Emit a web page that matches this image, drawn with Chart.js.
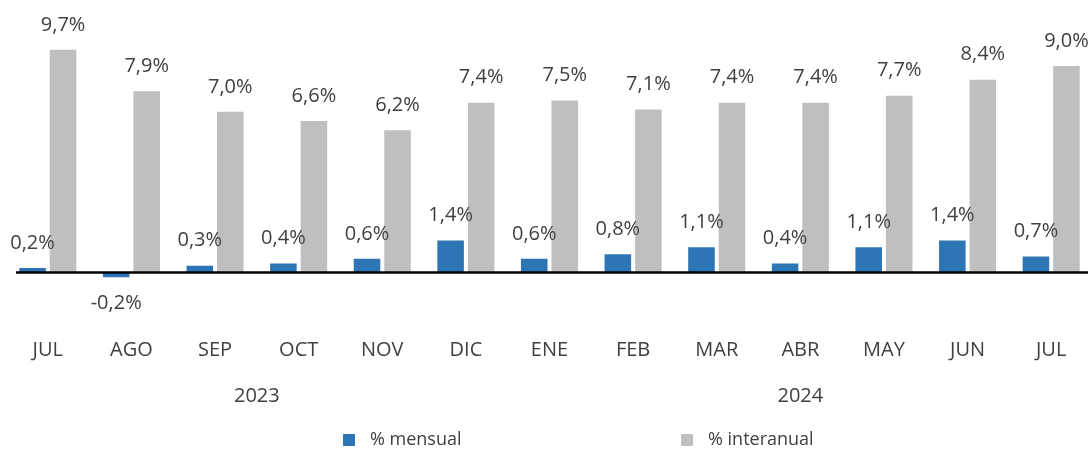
<!DOCTYPE html>
<html>
<head>
<meta charset="utf-8">
<script src="https://cdn.jsdelivr.net/npm/chart.js@4/dist/chart.umd.min.js"></script>
<style>
html,body{margin:0;padding:0;background:#fff;overflow:hidden;}
#wrap{width:1094px;height:450px;}
</style>
</head>
<body>
<div id="wrap"><canvas id="c" width="1094" height="450"></canvas></div>
<script>
const categories = ['JUL','AGO','SEP','OCT','NOV','DIC','ENE','FEB','MAR','ABR','MAY','JUN','JUL'];
const mensual = [0.2,-0.2,0.3,0.4,0.6,1.4,0.6,0.8,1.1,0.4,1.1,1.4,0.7];
const interanual = [9.7,7.9,7.0,6.6,6.2,7.4,7.5,7.1,7.4,7.4,7.7,8.4,9.0];
const seriesNames = ['% mensual','% interanual'];
const yearLabels = ['2023','2024'];
const yearStart = [0,6];
const yearEnd = [5,12];

const FONT = '"Open Sans", "Noto Sans", sans-serif';
const TXT = '#404040';
const BLUE = '#2E75B6';
const GREY = '#BFBFBF';

function fmt(v){ return v.toFixed(1).replace('.', ',') + '%'; }

const decor = {
  id: 'decor',
  afterDatasetsDraw(chart){
    const ctx = chart.ctx;
    const y = chart.scales.y;
    const x = chart.scales.x;
    const y0 = y.getPixelForValue(0);
    ctx.save();
    // baseline
    ctx.strokeStyle = '#000';
    ctx.lineWidth = 2.5;
    ctx.beginPath();
    ctx.moveTo(16, y0);
    ctx.lineTo(1088, y0);
    ctx.stroke();
    // value labels
    ctx.fillStyle = TXT;
    ctx.font = '20px ' + FONT;
    ctx.textAlign = 'center';
    ctx.textBaseline = 'middle';
    chart.data.datasets.forEach((ds, di) => {
      const meta = chart.getDatasetMeta(di);
      meta.data.forEach((el, i) => {
        const v = ds.data[i];
        const ly = v >= 0 ? el.y - 25 : el.y + 26;
        ctx.fillText(fmt(v), el.x, ly);
      });
    });
    // year labels
    yearLabels.forEach((lab, k) => {
      const xa = x.getPixelForValue(yearStart[k]);
      const xb = x.getPixelForValue(yearEnd[k]);
      ctx.fillText(lab, (xa + xb) / 2, 396);
    });
    // legend
    const legendX = [343, 681];
    ctx.font = '18px ' + FONT;
    ctx.textAlign = 'left';
    chart.data.datasets.forEach((ds, di) => {
      ctx.fillStyle = ds.backgroundColor;
      ctx.fillRect(legendX[di], 434, 12, 12);
      ctx.fillStyle = TXT;
      ctx.fillText(ds.label, legendX[di] + 27, 440);
    });
    ctx.restore();
  }
};

new Chart(document.getElementById('c'), {
  type: 'bar',
  data: {
    labels: categories,
    datasets: [
      { label: seriesNames[0], data: mensual, backgroundColor: BLUE, categoryPercentage: 0.73, barPercentage: 0.87 },
      { label: seriesNames[1], data: interanual, backgroundColor: GREY, categoryPercentage: 0.73, barPercentage: 0.87 }
    ]
  },
  options: {
    responsive: false,
    animation: false,
    devicePixelRatio: 1,
    layout: { padding: { left: 6, right: 1, top: 31.5, bottom: 68.5 } },
    plugins: { legend: { display: false }, tooltip: { enabled: false } },
    scales: {
      x: {
        grid: { display: false, drawTicks: false },
        border: { display: false },
        ticks: { color: TXT, font: { family: FONT, size: 20 }, padding: 19.5, maxRotation: 0, autoSkip: false }
      },
      y: {
        display: false,
        min: -2,
        max: 10.5
      }
    }
  },
  plugins: [decor]
});
</script>
</body>
</html>
